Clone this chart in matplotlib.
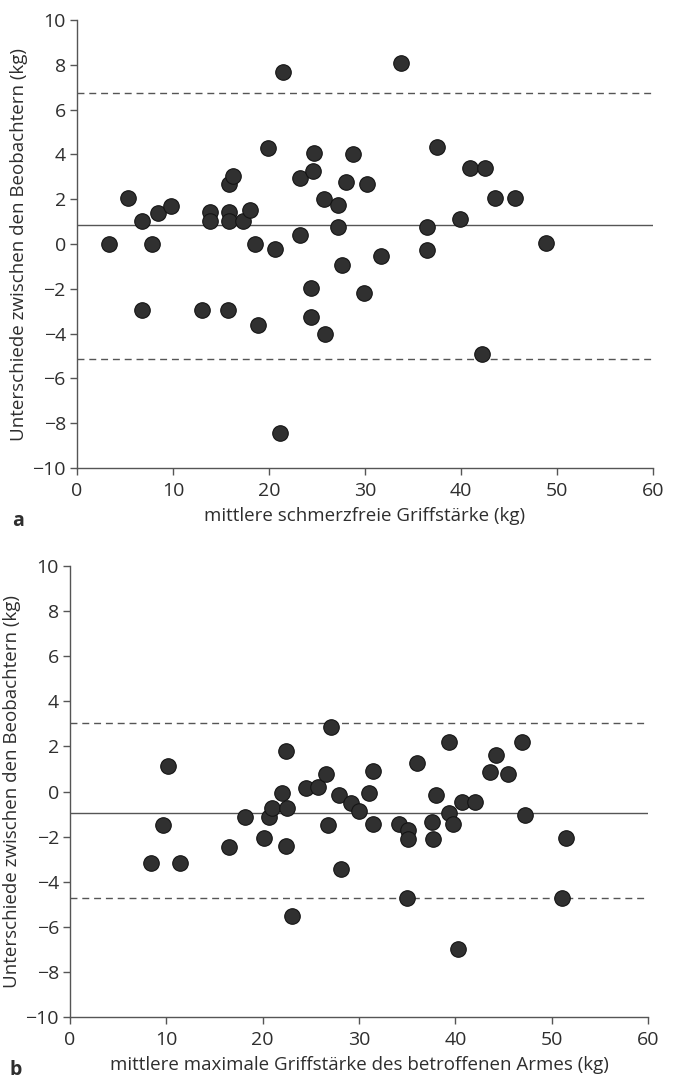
import numpy as np
import matplotlib.pyplot as plt

plt.rcParams['font.family'] = ['Open Sans', 'DejaVu Sans']

# --- Daten Abb. a: schmerzfreie Griffstaerke ---
mittel_a = [3.3, 5.35, 6.8, 7.8, 8.4, 9.8, 13.85, 13.85, 15.8, 15.8,
            15.8, 16.25, 17.3, 18.0, 18.5, 19.9, 20.6, 21.5, 23.2, 23.2,
            24.7, 24.6, 25.7, 27.2, 27.2, 28.0, 28.8, 30.2, 33.8, 37.5,
            40.9, 42.5, 43.5, 45.6, 36.5, 39.9, 36.5, 48.9, 31.7, 27.6,
            24.4, 29.9, 6.75, 13.05, 15.75, 18.9, 24.4, 25.8, 21.1, 42.15]
diff_a = [0.0, 2.05, 1.05, 0.0, 1.4, 1.7, 1.45, 1.05, 1.45, 1.05,
          2.7, 3.05, 1.05, 1.5, 0.0, 4.3, -0.2, 7.7, 2.95, 0.4,
          4.05, 3.25, 2.0, 1.75, 0.75, 2.75, 4.0, 2.7, 8.1, 4.35,
          3.4, 3.4, 2.05, 2.05, 0.75, 1.1, -0.25, 0.05, -0.55, -0.95,
          -1.95, -2.2, -2.95, -2.95, -2.95, -3.6, -3.25, -4.0, -8.45, -4.9]
mean_a = 0.85
loa_a = [6.75, -5.15]

# --- Daten Abb. b: maximale Griffstaerke ---
mittel_b = [10.2, 9.6, 8.4, 11.45, 16.55, 18.15, 20.15, 20.65, 20.95, 22.05,
            22.45, 22.55, 22.45, 23.05, 24.45, 25.75, 26.55, 27.05, 26.75, 27.95,
            28.15, 29.15, 29.95, 31.05, 31.45, 31.5, 34.15, 35.05, 35.05, 34.95,
            36.05, 37.55, 37.65, 37.95, 39.35, 39.35, 39.75, 40.65, 42.05, 43.55,
            44.25, 45.45, 46.95, 47.25, 51.45, 51.05, 40.3]
diff_b = [1.15, -1.5, -3.15, -3.15, -2.45, -1.15, -2.05, -1.15, -0.75, -0.05,
          1.8, -0.75, -2.4, -5.5, 0.15, 0.2, 0.8, 2.85, -1.5, -0.15,
          -3.45, -0.5, -0.85, -0.05, 0.9, -1.45, -1.45, -1.7, -2.1, -4.7,
          1.25, -1.35, -2.1, -0.15, 2.2, -0.95, -1.45, -0.45, -0.45, 0.85,
          1.6, 0.8, 2.2, -1.05, -2.05, -4.7, -7.0]
mean_b = -0.95
loa_b = [3.05, -4.7]

xticks = [0, 10, 20, 30, 40, 50, 60]
yticks = [-10, -8, -6, -4, -2, 0, 2, 4, 6, 8, 10]
ylab = 'Unterschiede zwischen den Beobachtern (kg)'

txt = '#2e2e2e'
linie = '#555555'

fig = plt.figure(figsize=(6.76, 10.89), dpi=100)
ax1 = fig.add_axes([0.1139, 0.5702, 0.852, 0.4114])
ax2 = fig.add_axes([0.1036, 0.0661, 0.855, 0.4141])

def bland_altman(ax, x, y, mw, loa, xlabel, buchstabe, bx, by):
    ax.axhline(mw, color=linie, lw=1.0, zorder=1)
    for g in loa:
        ax.axhline(g, color=linie, lw=1.0, ls=(0, (5, 3.5)), zorder=1)
    ax.scatter(x, y, s=125, c='#303030', edgecolors='#151515',
               linewidths=0.8, zorder=3)
    ax.set_xlim(0, 60)
    ax.set_ylim(-10, 10)
    ax.set_xticks(xticks)
    ax.set_yticks(yticks)
    ax.set_yticklabels([str(t).replace('-', '\u2212') for t in yticks])
    for s in ['top', 'right']:
        ax.spines[s].set_visible(False)
    for s in ['left', 'bottom']:
        ax.spines[s].set_color(linie)
        ax.spines[s].set_linewidth(1.0)
    ax.tick_params(direction='out', length=5, width=1.0, color=linie,
                   labelsize=14, labelcolor=txt)
    ax.tick_params(axis='x', pad=5)
    ax.tick_params(axis='y', pad=3)
    ax.set_xlabel(xlabel, fontsize=13.5, color=txt, labelpad=5)
    ax.set_ylabel(ylab, fontsize=13.5, color=txt, labelpad=3)
    ax.text(bx, by, buchstabe, transform=ax.transAxes,
            fontsize=14, fontweight='bold', color=txt, va='center')

bland_altman(ax1, mittel_a, diff_a, mean_a, loa_a,
             'mittlere schmerzfreie Griffstärke (kg)', 'a', -0.112, -0.118)
bland_altman(ax2, mittel_b, diff_b, mean_b, loa_b,
             'mittlere maximale Griffstärke des betroffenen Armes (kg)', 'b',
             -0.105, -0.118)

fig.savefig('out.png', dpi=100)
